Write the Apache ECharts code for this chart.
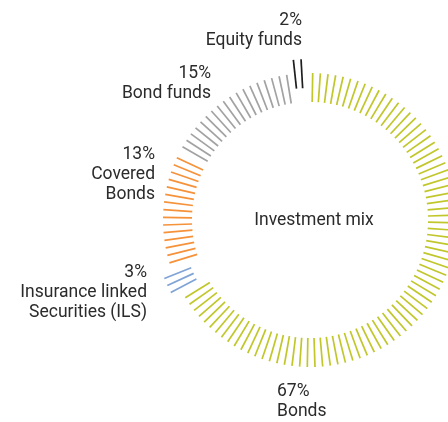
<!DOCTYPE html>
<html>
<head>
<meta charset="utf-8">
<script src="https://cdn.jsdelivr.net/npm/echarts@6/dist/echarts.min.js"></script>
<style>
  html, body { margin: 0; padding: 0; background: #fff; }
  #chart { width: 448px; height: 422px; }
</style>
</head>
<body>
<div id="chart"></div>
<script>
// Portfolio allocation, clockwise from 12 o'clock
const categories = ['Bonds', 'Insurance linked Securities (ILS)', 'Covered Bonds', 'Bond funds', 'Equity funds'];
const shares = [67, 3, 13, 15, 2];
const labelLines = [['Bonds'], ['Insurance linked', 'Securities (ILS)'], ['Covered', 'Bonds'], ['Bond funds'], ['Equity funds']];
const centerTitle = 'Investment mix';

// Styling
const colors = ['#c1c72b', '#80a3d6', '#f5923a', '#a2a2a2', '#1e1e1e'];
const TEXT_COLOR = '#2b2b2b';
const FONT = '17.5px Roboto, sans-serif';
const TICKS_PER_PERCENT = 1.2;      // 120 radial strokes round the full ring
const RING_INNER = 118;
const RING_OUTER = 147;
const explodeOffsets = [0, 10, 0, 0, 14];  // small slices pushed outward

// Label anchors (pixel layout of the annotation text)
const labelLayout = [
  { x: 277, y: 382, align: 'left' },
  { x: 147, y: 263, align: 'right' },
  { x: 155, y: 145, align: 'right' },
  { x: 211, y: 64, align: 'right' },
  { x: 302, y: 11, align: 'right' }
];

// Cumulative start/end of each slice on the 0..100 angle scale
const segments = [];
let acc = 0;
shares.forEach(function (v) {
  segments.push([acc, acc + v]);
  acc += v;
});

function renderTicks(params, api) {
  const idx = params.dataIndex;
  const start = api.value(0);
  const end = api.value(1);
  const step = 1 / TICKS_PER_PERCENT;
  const n = Math.floor((end - start) * TICKS_PER_PERCENT);
  const mid = (start + end) / 2;
  const c0 = api.coord([0, mid]);
  const c1 = api.coord([explodeOffsets[idx], mid]);
  const dx = c1[0] - c0[0];
  const dy = c1[1] - c0[1];
  const children = [];
  for (let i = 0; i < n; i++) {
    const a = start + (i + 0.35) * step;
    const p1 = api.coord([RING_INNER, a]);
    const p2 = api.coord([RING_OUTER, a]);
    children.push({
      type: 'line',
      shape: { x1: p1[0] + dx, y1: p1[1] + dy, x2: p2[0] + dx, y2: p2[1] + dy },
      style: { stroke: colors[idx], lineWidth: 1.7, lineCap: 'butt' }
    });
  }
  return { type: 'group', children: children };
}

const labelGraphics = categories.map(function (name, i) {
  const L = labelLayout[i];
  return {
    type: 'text',
    x: L.x,
    y: L.y,
    silent: true,
    style: {
      text: [shares[i] + '%'].concat(labelLines[i]).join('\n'),
      font: FONT,
      fill: TEXT_COLOR,
      textAlign: L.align,
      textVerticalAlign: 'top',
      lineHeight: 20
    }
  };
});

labelGraphics.push({
  type: 'text',
  x: 314,
  y: 221,
  silent: true,
  style: {
    text: centerTitle,
    font: FONT,
    fill: TEXT_COLOR,
    textAlign: 'center',
    textVerticalAlign: 'middle'
  }
});

const chart = echarts.init(document.getElementById('chart'), null, { renderer: 'canvas' });
chart.setOption({
  animation: false,
  backgroundColor: '#ffffff',
  polar: { center: [310, 220], radius: RING_OUTER },
  angleAxis: { type: 'value', min: 0, max: 100, startAngle: 90, clockwise: true, show: false },
  radiusAxis: { type: 'value', min: 0, max: RING_OUTER, show: false },
  series: [{
    type: 'custom',
    coordinateSystem: 'polar',
    name: 'Investment mix',
    data: segments.map(function (s, i) { return { name: categories[i], value: s }; }),
    renderItem: renderTicks,
    silent: true
  }],
  graphic: labelGraphics
});
</script>
</body>
</html>
